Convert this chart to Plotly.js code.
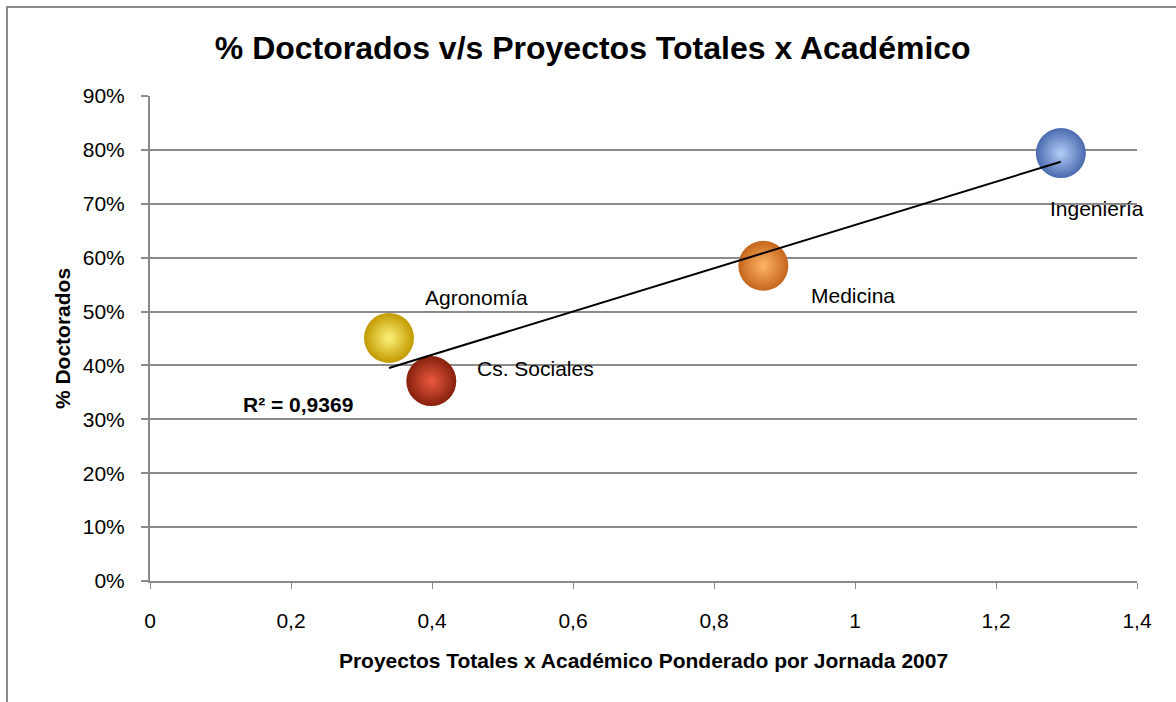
<!DOCTYPE html>
<html>
<head>
<meta charset="utf-8">
<script src="https://cdn.plot.ly/plotly-3.0.1.min.js"></script>
<style>
html,body{margin:0;padding:0;background:#fff;}
#wrap{position:relative;width:1176px;height:702px;overflow:hidden;}
#chart{width:1176px;height:702px;}
#frame{position:absolute;left:6px;top:6px;width:1200px;height:800px;border-left:2px solid #8a8a8a;border-top:2px solid #8a8a8a;pointer-events:none;}
</style>
</head>
<body>
<div id="wrap"><div id="chart"></div><div id="frame"></div></div>
<script>
// Data
const facultades = ["Agronomía", "Cs. Sociales", "Medicina", "Ingeniería"];
const proyectosPorAcademico = [0.339, 0.399, 0.870, 1.292];
const pctDoctorados = [0.451, 0.371, 0.585, 0.794];
const edgeColors = ["#c29a00", "#86200c", "#c4651c", "#4a6aae"];
const centerColors = ["#fff27a", "#ec5a40", "#ffb565", "#b4cdf8"];
const r2Label = "R² = 0,9369";
const xTickVals = [0, 0.2, 0.4, 0.6, 0.8, 1, 1.2, 1.4];
const xTickText = ["0", "0,2", "0,4", "0,6", "0,8", "1", "1,2", "1,4"];
const yTickVals = [0, 0.1, 0.2, 0.3, 0.4, 0.5, 0.6, 0.7, 0.8, 0.9];
const yTickText = ["0%", "10%", "20%", "30%", "40%", "50%", "60%", "70%", "80%", "90%"];
// label offsets (pixels) from each point
const labelDx = [87, 104, 90, 36];
const labelDy = [40, 13, -30, -55];

// linear trendline via least squares
const n = proyectosPorAcademico.length;
const mx = proyectosPorAcademico.reduce((a,b)=>a+b,0)/n;
const my = pctDoctorados.reduce((a,b)=>a+b,0)/n;
let sxy = 0, sxx = 0;
for (let i=0;i<n;i++){ sxy += (proyectosPorAcademico[i]-mx)*(pctDoctorados[i]-my); sxx += (proyectosPorAcademico[i]-mx)**2; }
const slope = sxy/sxx, intercept = my - slope*mx;
const xmin = Math.min(...proyectosPorAcademico), xmax = Math.max(...proyectosPorAcademico);

const FONT = "Liberation Sans, Arial, sans-serif";

const traces = [
  {
    type: "scatter", mode: "markers",
    x: proyectosPorAcademico, y: pctDoctorados,
    marker: {size: 50, color: edgeColors, line: {width: 0},
             gradient: {type: "radial", color: centerColors}},
    hoverinfo: "text", text: facultades, showlegend: false
  },
  {
    type: "scatter", mode: "lines",
    x: [xmin, xmax], y: [intercept + slope*xmin, intercept + slope*xmax],
    line: {color: "#000", width: 2}, showlegend: false, hoverinfo: "skip"
  }
];

const annotations = facultades.map((f,i)=>({
  x: proyectosPorAcademico[i], y: pctDoctorados[i], xref: "x", yref: "y",
  text: f, showarrow: false, xshift: labelDx[i], yshift: labelDy[i],
  font: {family: FONT, size: 21, color: "#000"}
}));
annotations.push({
  x: 0.21, y: 0.328, xref: "x", yref: "y", text: "<b>" + r2Label + "</b>",
  showarrow: false, font: {family: FONT, size: 21, color: "#000"}
});

const layout = {
  width: 1176, height: 702,
  margin: {l: 150, r: 39, t: 96, b: 121},
  paper_bgcolor: "rgba(0,0,0,0)", plot_bgcolor: "rgba(0,0,0,0)",
  font: {family: FONT, size: 21, color: "#000"},
  title: {text: "<b>% Doctorados v/s Proyectos Totales x Académico</b>",
          font: {family: FONT, size: 32, color: "#000"},
          x: 0.504, xanchor: "center", y: 0.932, yanchor: "middle", xref: "container"},
  xaxis: {
    range: [0, 1.4], tickvals: xTickVals, ticktext: xTickText,
    showgrid: false, zeroline: false, showline: true, linecolor: "#8a8a8a", linewidth: 2,
    ticks: "outside", ticklen: 6, tickcolor: "#8a8a8a", tickwidth: 1,
    ticklabelstandoff: 14,
    tickfont: {family: FONT, size: 21, color: "#000"},
    title: {text: "<b>Proyectos Totales x Académico Ponderado por Jornada 2007</b>",
            font: {family: FONT, size: 21, color: "#000"}, standoff: 22}
  },
  yaxis: {
    range: [0, 0.9], tickvals: yTickVals, ticktext: yTickText,
    showgrid: true, gridcolor: "#8a8a8a", gridwidth: 2,
    zeroline: false, showline: true, linecolor: "#8a8a8a", linewidth: 2,
    ticks: "outside", ticklen: 7, tickcolor: "#8a8a8a", tickwidth: 2,
    ticklabelstandoff: 12,
    tickfont: {family: FONT, size: 21, color: "#000"},
    title: {text: "<b>% Doctorados</b>", font: {family: FONT, size: 21, color: "#000"}, standoff: 6}
  },
  annotations: annotations,
  showlegend: false
};

Plotly.newPlot("chart", traces, layout, {displayModeBar: false, staticPlot: true});
</script>
</body>
</html>
